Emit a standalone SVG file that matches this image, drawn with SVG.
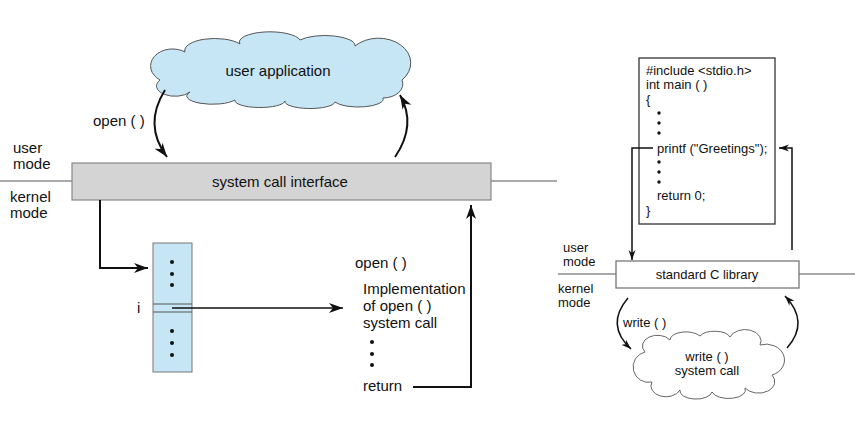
<svg xmlns="http://www.w3.org/2000/svg" width="855" height="429" viewBox="0 0 855 429">
<defs>
<style>
text{font-family:"Liberation Sans",Arial,sans-serif;fill:#111}
.l{font-size:15px}
.r{font-size:13px}
.c{text-anchor:middle}
.conn{fill:none;stroke:#111;stroke-width:2}
.thin{fill:none;stroke:#111;stroke-width:1.5}
.mode{stroke:#555;stroke-width:1.2;fill:none}
.dot{fill:#111}
</style>
<marker id="big" markerUnits="userSpaceOnUse" markerWidth="15" markerHeight="11" refX="14" refY="5" orient="auto">
<path d="M0,0 L14,5 L0,10 L4,5 z" fill="#111"/>
</marker>
<marker id="small" markerUnits="userSpaceOnUse" markerWidth="11" markerHeight="8" refX="10" refY="3.5" orient="auto">
<path d="M0,0 L10,3.5 L0,7 L3,3.5 z" fill="#111"/>
</marker>
</defs>
<rect width="855" height="429" fill="#ffffff"/>

<!-- mode lines -->
<g id="mode-lines">
<line class="mode" x1="0" y1="181" x2="72" y2="181"/>
<line class="mode" x1="491" y1="181" x2="557" y2="181"/>
<line class="mode" x1="558" y1="274" x2="616" y2="274"/>
<line class="mode" x1="799" y1="274" x2="855" y2="274"/>
</g>

<g id="mode-labels">
<text class="l" x="13" y="153">user</text>
<text class="l" x="13" y="169">mode</text>
<text class="l" x="10" y="202">kernel</text>
<text class="l" x="10" y="218">mode</text>
<text class="r" x="563" y="252">user</text>
<text class="r" x="563" y="266">mode</text>
<text class="r" x="558" y="293">kernel</text>
<text class="r" x="558" y="307">mode</text>
</g>

<g id="user-application">
<path d="M160,80 A18,14 0 0 1 185,52 A30,12 0 0 1 240,44 A30,10 0 0 1 300,40 A30,10 0 0 1 355,46 A26,20 0 0 1 402,80 A20,14 0 0 1 383,98 A25,8 0 0 1 335,102 A25,7 0 0 1 285,101 A25,7 0 0 1 235,100 A25,8 0 0 1 190,92 A18,10 0 0 1 160,80 Z" fill="#c6e6f6" stroke="#555" stroke-width="1"/>
<text class="l c" x="278" y="76">user application</text>
</g>

<g id="system-call-interface">
<rect x="72" y="163" width="419" height="37" fill="#d4d4d4" stroke="#888" stroke-width="1.2"/>
<text class="l c" x="280" y="187">system call interface</text>
</g>

<g id="table">
<rect x="153" y="243" width="39" height="129" fill="#c6e6f6" stroke="#777" stroke-width="1"/>
<line x1="153" y1="304" x2="192" y2="304" stroke="#555" stroke-width="1"/>
<line x1="153" y1="312" x2="192" y2="312" stroke="#555" stroke-width="1"/>
<circle class="dot" cx="172" cy="262" r="2"/>
<circle class="dot" cx="172" cy="274" r="2"/>
<circle class="dot" cx="172" cy="285" r="2"/>
<circle class="dot" cx="172" cy="331" r="2"/>
<circle class="dot" cx="172" cy="343" r="2"/>
<circle class="dot" cx="172" cy="355" r="2"/>
<text class="l" x="137" y="313">i</text>
</g>

<g id="open-impl">
<text class="l" x="355" y="268">open ( )</text>
<text class="l" x="363" y="294">Implementation</text>
<text class="l" x="363" y="311">of open ( )</text>
<text class="l" x="363" y="328">system call</text>
<circle class="dot" cx="372" cy="342" r="2"/>
<circle class="dot" cx="372" cy="354" r="2"/>
<circle class="dot" cx="372" cy="365" r="2"/>
<text class="l" x="363" y="391">return</text>
</g>

<g id="code-box">
<rect x="639" y="58" width="136" height="166" fill="#fff" stroke="#333" stroke-width="1.3"/>
<text class="r" x="646" y="75">#include &lt;stdio.h&gt;</text>
<text class="r" x="646" y="89">int main ( )</text>
<text class="r" x="646" y="104">{</text>
<circle class="dot" cx="659" cy="113" r="1.7"/>
<circle class="dot" cx="659" cy="123" r="1.7"/>
<circle class="dot" cx="659" cy="133" r="1.7"/>
<text class="r" x="657" y="153">printf ("Greetings");</text>
<circle class="dot" cx="659" cy="162" r="1.7"/>
<circle class="dot" cx="659" cy="172" r="1.7"/>
<circle class="dot" cx="659" cy="182" r="1.7"/>
<text class="r" x="657" y="200">return 0;</text>
<text class="r" x="646" y="215">}</text>
</g>

<g id="standard-c-library">
<rect x="616" y="261" width="183" height="27" fill="#fff" stroke="#777" stroke-width="1.3"/>
<text class="r c" x="707" y="279">standard C library</text>
</g>

<g id="write-system-call">
<path d="M645,352 A14,10 0 0 1 670,340 A16,8 0 0 1 700,336 A16,8 0 0 1 730,337 A14,10 0 0 1 760,345 A14,12 0 0 1 772,375 A14,10 0 0 1 745,388 A16,8 0 0 1 712,392 A16,8 0 0 1 680,390 A14,10 0 0 1 652,382 A14,14 0 0 1 645,352 Z" fill="#fff" stroke="#666" stroke-width="1"/>
<text class="r c" x="707" y="361">write ( )</text>
<text class="r c" x="707" y="375">system call</text>
</g>

<g id="connectors">
<path class="conn" d="M165,90 Q143,125 167,157" marker-end="url(#big)"/>
<text class="l" x="93" y="126">open ( )</text>
<path class="conn" d="M395,157 Q417,125 400,95" marker-end="url(#big)"/>
<path class="conn" d="M100,200 L100,268 L148,268" marker-end="url(#big)"/>
<path class="thin" d="M172,308 L343,308" marker-end="url(#big)"/>
<path class="conn" d="M413,387 L471,387 L471,205" marker-end="url(#big)"/>
<path class="thin" d="M653,148 L632,148 L632,260" marker-end="url(#small)"/>
<path class="thin" d="M792,250 L792,148 L779,148" marker-end="url(#small)"/>
<path class="thin" d="M628,298 Q605,325 631,349" marker-end="url(#small)"/>
<text class="r" x="623" y="327">write ( )</text>
<path class="thin" d="M787,348 Q810,322 785,296" marker-end="url(#small)"/>
</g>
</svg>
